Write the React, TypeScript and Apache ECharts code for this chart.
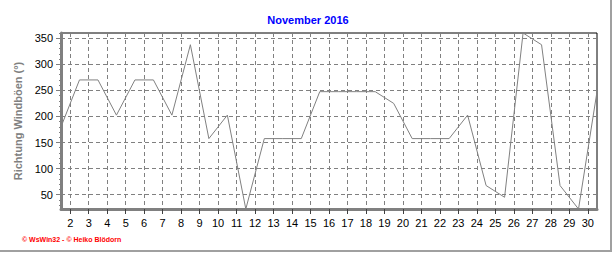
import React, { useEffect, useRef } from "react";
import * as echarts from "echarts";

const titleText = "November 2016";
const yAxisTitle = "Richtung Windböen (°)";
const footerText = "© WsWin32 - © Heiko Blödorn";

// x positions (day of month, data at mid-day between labels)
const dayPositions = [
  1.5, 2.5, 3.5, 4.5, 5.5, 6.5, 7.5, 8.5, 9.5, 10.5, 11.5, 12.5, 13.5, 14.5, 15.5,
  16.5, 17.5, 18.5, 19.5, 20.5, 21.5, 22.5, 23.5, 24.5, 25.5, 26.5, 27.5, 28.5, 29.5, 30.5,
];
// gust direction in degrees
const gustDirection = [
  180, 270, 270, 202.5, 270, 270, 202.5, 337.5, 157.5, 202.5, 22.5, 157.5, 157.5, 157.5, 247.5,
  247.5, 247.5, 247.5, 225, 157.5, 157.5, 157.5, 202.5, 67.5, 45, 360, 337.5, 67.5, 22.5, 247.5,
];
// tick labels
const xTickDays = [2, 3, 4, 5, 6, 7, 8, 9, 10, 11, 12, 13, 14, 15, 16, 17, 18, 19, 20, 21, 22, 23, 24, 25, 26, 27, 28, 29, 30];
const yTickValues = [50, 100, 150, 200, 250, 300, 350];
const yMinorTicks = [30, 40, 60, 70, 80, 90, 110, 120, 130, 140, 160, 170, 180, 190, 210, 220, 230, 240, 260, 270, 280, 290, 310, 320, 330, 340, 360];

const X_MIN = 1.5;
const X_MAX = 30.5;
const Y_MIN = 22.5;
const Y_MAX = 360;

export default function App() {
  const ref = useRef<HTMLDivElement>(null);

  useEffect(() => {
    if (!ref.current) return;
    const chart = echarts.init(ref.current, undefined, { renderer: "svg" });

    const xMinor: number[] = [];
    for (let i = 0; i <= 145; i++) {
      const v = Math.round((X_MIN + 0.1 + i * 0.2) * 10) / 10;
      if (v > X_MIN && v < X_MAX && Math.abs(v - Math.round(v)) > 0.01) xMinor.push(v);
    }

    const gray = "#808080";
    const font = "'Liberation Sans', Arial, sans-serif";

    chart.setOption({
      animation: false,
      backgroundColor: "#ffffff",
      grid: {
        left: 61,
        right: 19,
        top: 33,
        bottom: 44,
        show: true,
        borderColor: "#000000",
        borderWidth: 1,
        backgroundColor: "transparent",
        containLabel: false,
        outerBoundsMode: "none",
      },
      xAxis: [
        {
          type: "value",
          min: X_MIN,
          max: X_MAX,
          position: "bottom",
          axisLine: { show: true, onZero: false, lineStyle: { color: gray, width: 3 } },
          axisTick: { show: true, customValues: xTickDays, length: 5, inside: false, lineStyle: { color: "#404040", width: 1 } },
          axisLabel: {
            show: true,
            customValues: xTickDays,
            margin: 8,
            color: "#000000",
            fontSize: 11,
            fontFamily: font,
          },
          splitLine: { show: true, lineStyle: { color: gray, width: 1, type: [4, 3] } },
          z: 5,
        },
        {
          type: "value",
          min: X_MIN,
          max: X_MAX,
          position: "bottom",
          offset: 0,
          axisLine: { show: false },
          axisTick: { show: true, customValues: xMinor, length: 2, lineStyle: { color: "#404040", width: 1 } },
          axisLabel: { show: false },
          splitLine: { show: false },
        },
        {
          type: "value",
          min: X_MIN,
          max: X_MAX,
          position: "top",
          offset: 0,
          axisLine: { show: false },
          axisTick: { show: true, customValues: xTickDays, length: 4, inside: true, lineStyle: { color: "#000000", width: 1 } },
          axisLabel: { show: false },
          splitLine: { show: false },
        },
      ],
      yAxis: [
        {
          type: "value",
          min: Y_MIN,
          max: Y_MAX,
          position: "left",
          name: yAxisTitle,
          nameLocation: "middle",
          nameGap: 34,
          nameRotate: 90,
          nameTextStyle: { color: gray, fontSize: 11, fontWeight: "bold", fontFamily: font },
          axisLine: { show: true, onZero: false, lineStyle: { color: gray, width: 3 } },
          axisTick: { show: true, customValues: yTickValues, length: 5, lineStyle: { color: gray, width: 1 } },
          axisLabel: {
            show: true,
            customValues: yTickValues,
            margin: 8,
            color: "#000000",
            fontSize: 11,
            fontFamily: font,
          },
          splitLine: { show: true, lineStyle: { color: gray, width: 1, type: [4, 3] } },
          z: 5,
        },
        {
          type: "value",
          min: Y_MIN,
          max: Y_MAX,
          position: "left",
          offset: 0,
          axisLine: { show: false },
          axisTick: { show: true, customValues: yMinorTicks, length: 2, lineStyle: { color: gray, width: 1 } },
          axisLabel: { show: false },
          splitLine: { show: false },
        },
      ],
      series: [
        {
          type: "line",
          xAxisIndex: 0,
          yAxisIndex: 0,
          data: dayPositions.map((d, i) => [d, gustDirection[i]]),
          symbol: "none",
          showSymbol: false,
          lineStyle: { color: gray, width: 1 },
          clip: true,
          z: 3,
        },
      ],
      graphic: [
        {
          type: "text",
          left: "center",
          top: 14,
          style: {
            text: titleText,
            fill: "#0000ff",
            font: `bold 11px ${font}`,
          },
        },
        {
          type: "text",
          x: 22,
          y: 239,
          style: {
            text: footerText,
            fill: "#ff0000",
            font: `bold 7px ${font}`,
            textVerticalAlign: "middle",
          },
        },
        {
          type: "rect",
          shape: { x: 610, y: 0, width: 2, height: 252 },
          style: { fill: "#a0a0a0" },
        },
        {
          type: "rect",
          shape: { x: 0, y: 250, width: 612, height: 2 },
          style: { fill: "#a0a0a0" },
        },
      ],
    });

    return () => chart.dispose();
  }, []);

  return (
    <div
      ref={ref}
      style={{ position: "absolute", left: 0, top: 0, width: 616, height: 253 }}
    />
  );
}
